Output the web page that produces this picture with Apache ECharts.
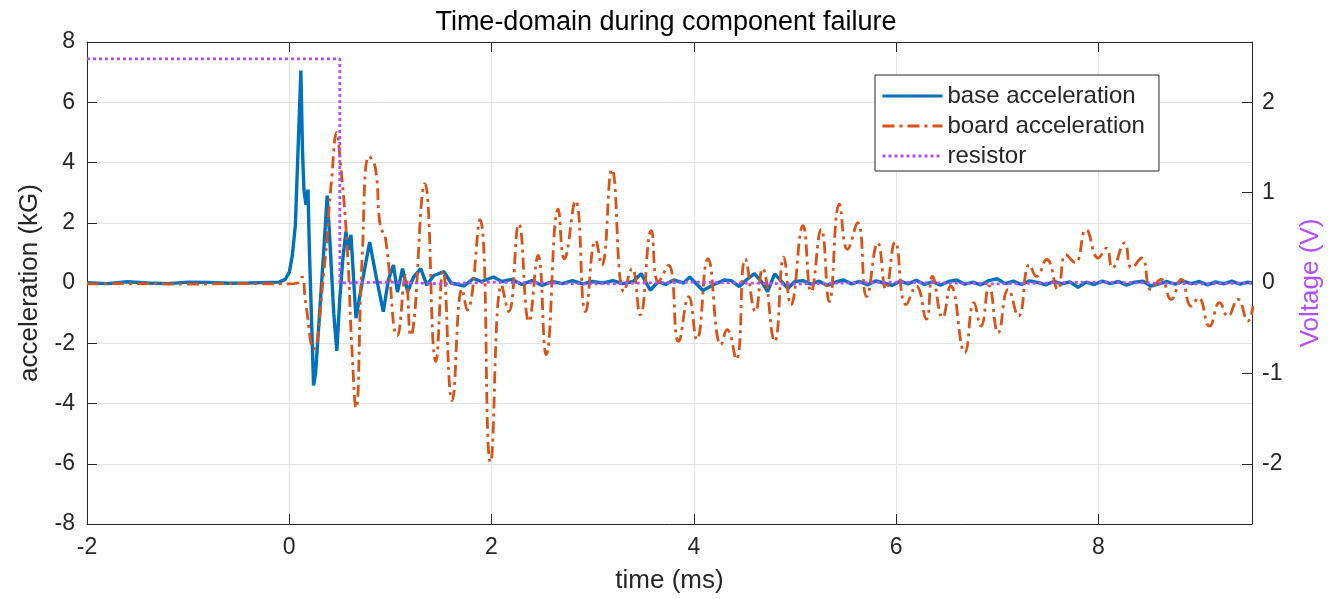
<!DOCTYPE html>
<html>
<head>
<meta charset="utf-8">
<title>Time-domain during component failure</title>
<script src="https://cdn.jsdelivr.net/npm/echarts@6/dist/echarts.min.js"></script>
<style>
  html, body { margin: 0; padding: 0; background: #fff; }
  #chart { width: 1332px; height: 599px; }
</style>
</head>
<body>
<div id="chart"></div>
<script>
// time in ms
var xTicks = [-2, 0, 2, 4, 6, 8];
var yTicksLeft = [-8, -6, -4, -2, 0, 2, 4, 6, 8];
var yTicksRight = [-2, -1, 0, 1, 2];

// base acceleration (kG)
var baseAccel = [
  [-2.0, 0.01], [-1.8, -0.02], [-1.6, 0.04], [-1.4, 0.0], [-1.2, -0.02], [-1.0, 0.03],
  [-0.8, 0.02], [-0.6, -0.01], [-0.4, 0.0], [-0.2, 0.02], [-0.1, 0.03], [-0.04, 0.12],
  [0.0, 0.35], [0.03, 0.9], [0.06, 1.9], [0.09, 4.7], [0.115, 7.05], [0.13, 4.5],
  [0.145, 3.1], [0.165, 2.6], [0.185, 3.1], [0.20, 1.0], [0.24, -3.4], [0.26, -3.0],
  [0.30, -1.0], [0.34, 1.0], [0.375, 2.9], [0.40, 1.5], [0.44, -1.0], [0.47, -2.25],
  [0.50, -0.5], [0.53, 0.8], [0.56, 1.7], [0.585, 1.1], [0.61, 1.6], [0.66, -1.17],
  [0.72, 0.0], [0.795, 1.36], [0.86, 0.2], [0.93, -0.95], [0.98, 0.1], [1.03, 0.6],
  [1.07, -0.3], [1.12, 0.48], [1.17, -0.29], [1.23, 0.2], [1.30, 0.48], [1.36, -0.07],
  [1.43, 0.25], [1.53, 0.38], [1.60, 0.0], [1.73, -0.1], [1.82, 0.15], [1.90, 0.05],
  [2.02, 0.2], [2.10, 0.05], [2.20, 0.12], [2.30, -0.05], [2.40, 0.08], [2.50, -0.08],
  [2.60, 0.05], [2.70, -0.02], [2.80, 0.08], [2.90, -0.03], [3.00, 0.05], [3.10, 0.0],
  [3.20, 0.08], [3.30, -0.02], [3.40, 0.05], [3.48, 0.31], [3.57, -0.24], [3.65, 0.05],
  [3.72, -0.05], [3.80, 0.1], [3.90, 0.0], [3.96, 0.2], [4.09, -0.25], [4.20, -0.05],
  [4.30, 0.1], [4.37, 0.08], [4.45, -0.12], [4.52, 0.1], [4.60, 0.31], [4.68, 0.0],
  [4.73, -0.29], [4.80, 0.3], [4.93, -0.18], [5.00, 0.05], [5.08, 0.08], [5.16, -0.04],
  [5.24, 0.06], [5.32, -0.08], [5.40, 0.03], [5.48, 0.1], [5.56, -0.03], [5.64, 0.05],
  [5.72, -0.06], [5.80, 0.07], [5.88, 0.0], [5.96, -0.08], [6.04, 0.06], [6.12, -0.03],
  [6.20, 0.09], [6.28, -0.05], [6.36, 0.04], [6.44, -0.07], [6.52, 0.05], [6.60, 0.1],
  [6.68, -0.04], [6.76, 0.03], [6.84, -0.06], [6.92, 0.08], [7.00, 0.14], [7.08, -0.02],
  [7.16, 0.06], [7.24, -0.05], [7.32, 0.07], [7.40, 0.02], [7.48, -0.06], [7.56, 0.05],
  [7.64, -0.03], [7.72, 0.04], [7.80, -0.14], [7.88, 0.03], [7.96, -0.05], [8.04, 0.06],
  [8.12, -0.02], [8.20, 0.05], [8.28, -0.07], [8.36, 0.03], [8.44, 0.06], [8.52, -0.1],
  [8.60, -0.03], [8.68, 0.05], [8.76, -0.04], [8.84, 0.06], [8.92, -0.02], [9.00, 0.05],
  [9.08, -0.06], [9.16, 0.04], [9.24, -0.03], [9.32, 0.06], [9.40, -0.04], [9.48, 0.03],
  [9.52, 0.0]
];

// board acceleration (kG)
var boardAccel = [
  [-2.0, -0.03], [-1.5, -0.02], [-1.0, -0.04], [-0.5, -0.02], [0.0, -0.03], [0.08, 0.0],
  [0.125, 0.2], [0.16, -0.6], [0.24, -2.2], [0.34, 0.3], [0.42, 3.5], [0.47, 5.0],
  [0.50, 4.2], [0.57, 1.35], [0.62, -2.2], [0.66, -4.15], [0.72, 0.78], [0.79, 4.2],
  [0.85, 3.85], [0.90, 1.9], [0.95, 1.5], [1.07, -1.75], [1.15, 0.25], [1.20, -1.75],
  [1.34, 3.3], [1.45, -2.6], [1.52, 0.4], [1.61, -3.9], [1.71, -0.2], [1.76, -0.9],
  [1.885, 2.1], [1.99, -5.95], [2.10, -0.07], [2.17, -0.95], [2.27, 1.96], [2.37, -1.28],
  [2.46, 0.92], [2.54, -2.38], [2.66, 2.45], [2.72, 0.8], [2.83, 2.73], [2.93, -0.95],
  [3.03, 1.41], [3.09, 0.59], [3.19, 3.77], [3.31, -0.29], [3.39, 0.48], [3.47, -1.06],
  [3.58, 1.74], [3.65, 0.04], [3.75, 0.59], [3.85, -1.94], [3.95, -0.45], [4.03, -1.88],
  [4.14, 0.8], [4.27, -2.05], [4.33, -1.55], [4.42, -2.54], [4.51, 0.8], [4.61, -0.95],
  [4.68, 0.48], [4.80, -1.94], [4.89, 0.86], [4.96, -0.73], [5.08, 1.9], [5.16, -0.29],
  [5.26, 1.79], [5.34, -0.62], [5.44, 2.62], [5.52, 1.12], [5.62, 2.0], [5.71, -0.45],
  [5.82, 1.33], [5.90, -0.21], [5.99, 1.36], [6.10, -0.72], [6.20, -0.1], [6.30, -1.2],
  [6.36, 0.22], [6.46, -1.15], [6.54, -0.1], [6.68, -2.31], [6.77, -0.65], [6.84, -1.43],
  [6.92, -0.1], [7.01, -1.65], [7.11, -0.21], [7.21, -1.1], [7.32, 0.61], [7.39, 0.22],
  [7.49, 0.78], [7.60, -0.21], [7.68, 0.94], [7.77, 0.67], [7.88, 1.77], [8.00, 0.83],
  [8.08, 1.16], [8.14, 0.5], [8.26, 1.33], [8.33, 0.5], [8.43, 0.83], [8.52, -0.21],
  [8.62, 0.12], [8.72, -0.54], [8.82, 0.12], [8.92, -0.77], [8.99, -0.49], [9.10, -1.43],
  [9.20, -0.65], [9.28, -1.1], [9.38, -0.54], [9.48, -1.26], [9.53, -0.77]
];

// resistor voltage (V)
var resistorV = [
  [-2.0, 2.48], [0.5, 2.48], [0.5, 0.0], [1.0, 0.01], [1.5, -0.01], [2.0, 0.01],
  [3.0, -0.01], [4.0, 0.01], [5.0, -0.01], [6.0, 0.01], [7.0, -0.01], [8.0, 0.01],
  [9.0, -0.01], [9.52, 0.0]
];

var textColor = '#262626';
var gridColor = '#e3e3e3';
var font = 'Liberation Sans, Arial, Helvetica, sans-serif';
var clear = 'rgba(0,0,0,0)';

function intOnly(v) {
  return Math.abs(v - Math.round(v)) < 1e-6 ? String(Math.round(v)) : '';
}

var myChart = echarts.init(document.getElementById('chart'));
var option = {
  animation: false,
  backgroundColor: '#fff',
  title: {
    text: 'Time-domain during component failure',
    left: 'center',
    top: 4,
    textStyle: { fontFamily: font, fontSize: 27, fontWeight: 'normal', color: '#000' }
  },
  legend: {
    orient: 'vertical',
    left: 875,
    top: 75,
    padding: [9, 14, 3, 6],
    itemWidth: 60,
    itemHeight: 14,
    itemGap: 6,
    backgroundColor: '#fff',
    borderColor: textColor,
    borderWidth: 1,
    itemStyle: { color: clear, borderColor: clear, borderWidth: 0, opacity: 0 },
    lineStyle: { width: 3 },
    textStyle: { fontFamily: font, fontSize: 24, color: textColor, lineHeight: 24 },
    data: ['base acceleration', 'board acceleration', 'resistor']
  },
  grid: { left: 87, right: 80, top: 42, bottom: 74 },
  xAxis: [{
    type: 'value',
    min: -2,
    max: 9.52,
    interval: 2,
    name: 'time (ms)',
    nameLocation: 'middle',
    nameGap: 44,
    nameTextStyle: { fontFamily: font, fontSize: 26, color: textColor },
    axisLine: { show: true, onZero: false, lineStyle: { color: textColor, width: 1 } },
    axisTick: { show: true, inside: true, length: 10, lineStyle: { color: textColor } },
    axisLabel: { fontFamily: font, fontSize: 23, color: textColor, margin: 12,
      formatter: function (v) { return xTicks.indexOf(v) >= 0 ? String(v) : ''; } },
    splitLine: { show: true, lineStyle: { color: gridColor, width: 1 } }
  }, {
    type: 'value',
    position: 'top',
    min: -2,
    max: 9.52,
    interval: 2,
    axisLine: { show: true, onZero: false, lineStyle: { color: textColor, width: 1 } },
    axisTick: { show: true, inside: true, length: 10, lineStyle: { color: textColor } },
    axisLabel: { show: false },
    splitLine: { show: false }
  }],
  yAxis: [{
    type: 'value',
    position: 'left',
    min: -8,
    max: 8,
    interval: 2,
    name: 'acceleration (kG)',
    nameLocation: 'middle',
    nameGap: 44,
    nameTextStyle: { fontFamily: font, fontSize: 26, color: textColor },
    axisLine: { show: true, onZero: false, lineStyle: { color: textColor, width: 1 } },
    axisTick: { show: true, inside: true, length: 10, lineStyle: { color: textColor } },
    axisLabel: { fontFamily: font, fontSize: 23, color: textColor, margin: 12,
      formatter: function (v) { return yTicksLeft.indexOf(v) >= 0 ? String(v) : ''; } },
    splitLine: { show: true, lineStyle: { color: gridColor, width: 1 } }
  }, {
    type: 'value',
    position: 'right',
    min: -8 / 3,
    max: 8 / 3,
    name: 'Voltage (V)',
    nameLocation: 'middle',
    nameRotate: 90,
    nameGap: 46,
    nameTextStyle: { fontFamily: font, fontSize: 26, color: '#b44dff' },
    axisLine: { show: true, onZero: false, lineStyle: { color: textColor, width: 1 } },
    axisTick: { show: true, inside: true, length: 10, lineStyle: { color: textColor } },
    axisLabel: { fontFamily: font, fontSize: 23, color: textColor, margin: 10,
      showMinLabel: false, showMaxLabel: false,
      formatter: function (v) { var s = intOnly(v); return yTicksRight.indexOf(Number(s)) >= 0 && s !== '' ? s : ''; } },
    splitLine: { show: false }
  }],
  series: [
    {
      name: 'base acceleration',
      type: 'line',
      xAxisIndex: 0,
      yAxisIndex: 0,
      symbol: 'none',
      data: baseAccel,
      lineStyle: { color: '#0072bd', width: 3.4 },
      itemStyle: { color: '#0072bd' }
    },
    {
      name: 'board acceleration',
      type: 'line',
      xAxisIndex: 0,
      yAxisIndex: 0,
      symbol: 'none',
      smooth: 0.5,
      data: boardAccel,
      lineStyle: { color: '#d95319', width: 2.8, type: [12, 5, 3, 5] },
      itemStyle: { color: '#d95319' }
    },
    {
      name: 'resistor',
      type: 'line',
      xAxisIndex: 0,
      yAxisIndex: 1,
      symbol: 'none',
      data: resistorV,
      lineStyle: { color: '#b44dff', width: 2.8, type: [3, 3] },
      itemStyle: { color: '#b44dff' }
    }
  ]
};
myChart.setOption(option);
</script>
</body>
</html>
